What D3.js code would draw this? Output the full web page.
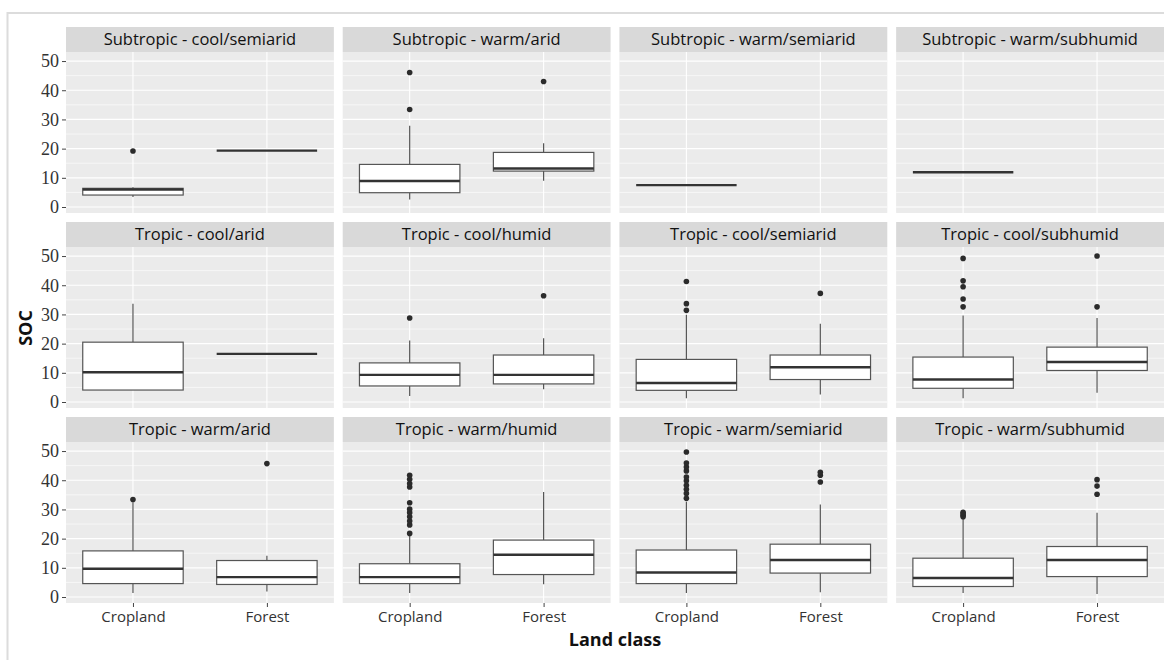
<!DOCTYPE html>
<html>
<head>
<meta charset="utf-8">
<script src="https://cdn.jsdelivr.net/npm/d3@7"></script>
<style>
  body { margin: 0; background: #fff; }
</style>
</head>
<body>
<div id="chart"></div>
<script>
// facet panels, row by row
const panels = [
  'Subtropic - cool/semiarid', 'Subtropic - warm/arid', 'Subtropic - warm/semiarid', 'Subtropic - warm/subhumid',
  'Tropic - cool/arid', 'Tropic - cool/humid', 'Tropic - cool/semiarid', 'Tropic - cool/subhumid',
  'Tropic - warm/arid', 'Tropic - warm/humid', 'Tropic - warm/semiarid', 'Tropic - warm/subhumid'
];
const landClasses = ['Cropland', 'Forest'];

// box stats per panel: [Cropland, Forest], null = no samples
const whiskerLow = [
  [3.4, 19.3], [2.6, 9.0], [7.5, null], [11.9, null],
  [4.1, 16.5], [2.1, 4.4], [1.3, 2.6], [1.3, 3.2],
  [1.4, 1.9], [1.4, 4.4], [1.4, 1.6], [1.4, 1.0]
];
const q1 = [
  [4.1, 19.3], [4.9, 12.3], [7.5, null], [11.9, null],
  [4.1, 16.5], [5.5, 6.2], [4.0, 7.7], [4.7, 10.8],
  [4.6, 4.3], [4.6, 7.7], [4.6, 8.2], [3.6, 7.0]
];
const median = [
  [6.0, 19.3], [8.9, 13.2], [7.5, null], [11.9, null],
  [10.2, 16.5], [9.3, 9.3], [6.5, 11.9], [7.7, 13.7],
  [9.7, 6.8], [6.8, 14.5], [8.4, 12.7], [6.5, 12.7]
];
const q3 = [
  [6.4, 19.3], [14.6, 18.7], [7.5, null], [11.9, null],
  [20.5, 16.5], [13.4, 16.1], [14.6, 16.1], [15.4, 18.8],
  [15.8, 12.5], [11.4, 19.5], [16.1, 18.1], [13.3, 17.3]
];
const whiskerHigh = [
  [6.8, 19.3], [27.8, 21.8], [7.5, null], [11.9, null],
  [33.7, 16.5], [21.1, 21.8], [29.9, 26.8], [29.6, 28.8],
  [32.5, 14.1], [21.0, 36.0], [32.6, 31.7], [26.9, 28.9]
];
const outliers = [
  [[19.2], []], [[46.1, 33.4], [43.0]], [[], []], [[], []],
  [[], []], [[28.8], [36.4]], [[31.4, 33.7, 41.3], [37.2]], [[32.6, 35.3, 39.5, 41.5, 49.2], [32.6, 50.0]],
  [[33.4], [45.7]],
  [[21.8, 24.7, 26.0, 27.5, 28.9, 30.1, 32.3, 37.7, 38.9, 40.3, 41.7], []],
  [[33.8, 35.5, 36.9, 38.3, 39.8, 41.1, 43.2, 44.5, 45.9, 49.7], [39.4, 41.7, 42.7]],
  [[27.5, 28.0, 28.5, 29.0], [35.2, 38.0, 40.2]]
];

const yTicks = [0, 10, 20, 30, 40, 50];
const yMinor = [5, 15, 25, 35, 45];

const width = 1164, height = 660;
const stripH = 25;

const svg = d3.select('#chart').append('svg')
  .attr('width', width)
  .attr('height', height)
  .style('font-family', '"Open Sans", "Noto Sans", sans-serif');

// light frame round the figure
svg.append('rect')
  .attr('x', 7.5).attr('y', 13)
  .attr('width', width).attr('height', height)
  .attr('fill', 'none')
  .attr('stroke', '#dcdcdc')
  .attr('stroke-width', 2);

const col = d3.scaleBand().domain(d3.range(4)).range([66, 1164]).paddingInner(0.032);
const row = d3.scaleBand().domain(d3.range(3)).range([27, 603]).paddingInner(0.0462);
const panelH = row.bandwidth() - stripH;

const x = d3.scalePoint().domain(landClasses).range([0, col.bandwidth()]).padding(0.5);
const y = d3.scaleLinear().domain([-2.05, 53.1]).range([panelH, 0]);
const boxW = x.step() * 0.75;

panels.forEach((name, i) => {
  const c = i % 4, r = Math.floor(i / 4);

  const strip = svg.append('g')
    .attr('transform', `translate(${col(c)},${row(r)})`);
  strip.append('rect')
    .attr('width', col.bandwidth())
    .attr('height', stripH)
    .attr('fill', '#d9d9d9');
  strip.append('text')
    .attr('x', col.bandwidth() / 2)
    .attr('y', stripH / 2)
    .attr('dy', '0.36em')
    .attr('text-anchor', 'middle')
    .attr('fill', '#111')
    .style('font-size', '16.5px')
    .text(name);

  const g = svg.append('g')
    .attr('transform', `translate(${col(c)},${row(r) + stripH})`);

  g.append('rect')
    .attr('width', col.bandwidth())
    .attr('height', panelH)
    .attr('fill', '#ebebeb');

  g.selectAll('.minor')
    .data(yMinor)
    .join('line')
      .attr('x1', 0).attr('x2', col.bandwidth())
      .attr('y1', d => y(d)).attr('y2', d => y(d))
      .attr('stroke', '#fff')
      .attr('stroke-width', 0.6);

  g.selectAll('.major')
    .data(yTicks)
    .join('line')
      .attr('x1', 0).attr('x2', col.bandwidth())
      .attr('y1', d => y(d)).attr('y2', d => y(d))
      .attr('stroke', '#fff')
      .attr('stroke-width', 1.2);

  g.selectAll('.vgrid')
    .data(landClasses)
    .join('line')
      .attr('x1', d => x(d)).attr('x2', d => x(d))
      .attr('y1', 0).attr('y2', panelH)
      .attr('stroke', '#fff')
      .attr('stroke-width', 1.1);

  landClasses.forEach((lc, j) => {
    if (median[i][j] == null) return;
    const cx = x(lc);
    const bg = g.append('g');

    // whiskers
    bg.append('line')
      .attr('x1', cx).attr('x2', cx)
      .attr('y1', y(q3[i][j])).attr('y2', y(whiskerHigh[i][j]))
      .attr('stroke', '#555').attr('stroke-width', 1.2);
    bg.append('line')
      .attr('x1', cx).attr('x2', cx)
      .attr('y1', y(q1[i][j])).attr('y2', y(whiskerLow[i][j]))
      .attr('stroke', '#555').attr('stroke-width', 1.2);

    bg.append('rect')
      .attr('x', cx - boxW / 2)
      .attr('y', y(q3[i][j]))
      .attr('width', boxW)
      .attr('height', y(q1[i][j]) - y(q3[i][j]))
      .attr('fill', '#fff')
      .attr('stroke', '#555')
      .attr('stroke-width', 1.2);

    bg.append('line')
      .attr('x1', cx - boxW / 2).attr('x2', cx + boxW / 2)
      .attr('y1', y(median[i][j])).attr('y2', y(median[i][j]))
      .attr('stroke', '#333').attr('stroke-width', 2.4);

    bg.selectAll('circle')
      .data(outliers[i][j])
      .join('circle')
        .attr('cx', cx)
        .attr('cy', d => y(d))
        .attr('r', 2.8)
        .attr('fill', '#2b2b2b');
  });

  if (c === 0) {
    const ya = g.append('g')
      .call(d3.axisLeft(y).tickValues(yTicks).tickSize(4).tickPadding(3));
    ya.select('.domain').remove();
    ya.selectAll('.tick line').attr('stroke', '#444');
    ya.selectAll('.tick text')
      .attr('fill', '#333')
      .style('font-family', '"Liberation Serif", "DejaVu Serif", serif')
      .style('font-size', '18px');
  }

  if (r === 2) {
    const xa = g.append('g')
      .attr('transform', `translate(0,${panelH})`)
      .call(d3.axisBottom(x).tickSize(4).tickPadding(4));
    xa.select('.domain').remove();
    xa.selectAll('.tick line').attr('stroke', '#444');
    xa.selectAll('.tick text')
      .attr('fill', '#333')
      .style('font-family', '"Open Sans", "Noto Sans", sans-serif')
      .style('font-size', '15px');
  }
});

svg.append('text')
  .attr('x', (66 + 1164) / 2)
  .attr('y', 646)
  .attr('text-anchor', 'middle')
  .style('font-size', '18px')
  .style('font-weight', 'bold')
  .attr('fill', '#111')
  .text('Land class');

svg.append('text')
  .attr('transform', 'translate(32,328) rotate(-90)')
  .attr('text-anchor', 'middle')
  .style('font-size', '18px')
  .style('font-weight', 'bold')
  .attr('fill', '#111')
  .text('SOC');
</script>
</body>
</html>
